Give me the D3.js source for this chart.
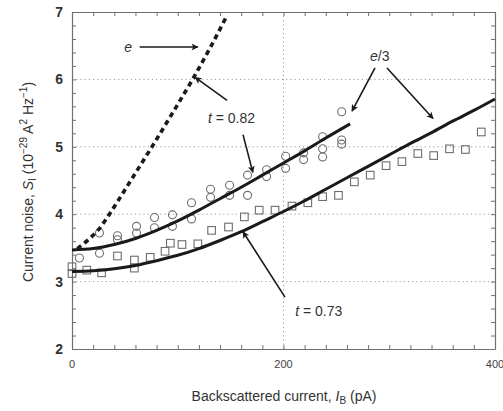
<!DOCTYPE html>
<html>
<head>
<meta charset="utf-8">
<script src="https://cdn.jsdelivr.net/npm/d3@7"></script>
<style>
  html, body { margin: 0; padding: 0; background: #fff; }
  svg { display: block; font-family: "Liberation Sans", Arial, sans-serif; }
</style>
</head>
<body>
<svg id="chart" width="503" height="411"></svg>
<script>
// Backscattered current I_B (pA) vs current noise S_I (1e-29 A^2/Hz)

// Measured noise, t = 0.82 (circles)
const circleX = [7, 26, 26, 43, 43, 61, 61, 78, 78, 95, 95, 113, 113, 131, 131, 149, 149, 166, 166, 184, 184, 202, 202, 219, 219, 237, 237, 237, 255, 255, 255];
const circleY = [3.35, 3.72, 3.42, 3.68, 3.62, 3.82, 3.72, 3.95, 3.80, 3.99, 3.82, 4.17, 3.93, 4.37, 4.25, 4.43, 4.28, 4.58, 4.28, 4.66, 4.56, 4.86, 4.68, 4.91, 4.81, 5.15, 4.97, 4.85, 5.52, 5.10, 5.04];

// Measured noise, t = 0.73 (squares)
const squareX = [0, 0, 14, 28, 43, 59, 59, 74, 88, 93, 104, 119, 132, 148, 163, 177, 192, 208, 223, 237, 252, 267, 282, 297, 312, 327, 342, 357, 372, 387];
const squareY = [3.22, 3.12, 3.17, 3.13, 3.38, 3.32, 3.20, 3.36, 3.45, 3.57, 3.55, 3.56, 3.76, 3.81, 3.96, 4.06, 4.06, 4.12, 4.17, 4.26, 4.28, 4.48, 4.58, 4.72, 4.78, 4.90, 4.87, 4.97, 4.96, 5.22];

// Expected noise for charge e* = e/3, t = 0.82
const fit082X = [0, 20, 40, 60, 80, 100, 120, 140, 160, 180, 200, 220, 240, 263];
const fit082Y = [3.47, 3.49, 3.55, 3.64, 3.76, 3.90, 4.06, 4.23, 4.40, 4.58, 4.76, 4.94, 5.13, 5.34];

// Expected noise for charge e* = e/3, t = 0.73
const fit073X = [0, 20, 40, 60, 80, 100, 120, 140, 160, 180, 200, 220, 240, 260, 280, 300, 320, 340, 360, 380, 400];
const fit073Y = [3.15, 3.16, 3.19, 3.24, 3.31, 3.39, 3.49, 3.61, 3.74, 3.89, 4.04, 4.20, 4.37, 4.54, 4.71, 4.88, 5.05, 5.21, 5.38, 5.54, 5.71];

// Expected noise for charge e* = e
const fitEX = [5, 16, 25, 35, 44, 60, 76, 95, 114, 130, 146];
const fitEY = [3.49, 3.63, 3.77, 3.99, 4.21, 4.61, 5.01, 5.50, 6.00, 6.45, 6.93];

// Axis ticks
const xMajor = [0, 200, 400];
const yMajor = [2, 3, 4, 5, 6, 7];
const xGrid = [200];
const yGrid = [3, 4, 5, 6];

const svg = d3.select("#chart");
const x = d3.scaleLinear().domain([0, 400]).range([72, 495]);
const y = d3.scaleLinear().domain([2, 7]).range([349, 12]);

const frame = "#6f6f6f";
const ink = "#1a1a1a";
const markC = "#6e6e6e";

// dotted grid
const grid = svg.append("g");
grid.selectAll("line.gy").data(yGrid).join("line")
  .attr("x1", x(0)).attr("x2", x(400))
  .attr("y1", d => y(d)).attr("y2", d => y(d))
  .attr("stroke", "#9a9a9a").attr("stroke-width", 1).attr("stroke-dasharray", "1.2,3");
grid.selectAll("line.gx").data(xGrid).join("line")
  .attr("y1", y(2)).attr("y2", y(7))
  .attr("x1", d => x(d)).attr("x2", d => x(d))
  .attr("stroke", "#9a9a9a").attr("stroke-width", 1).attr("stroke-dasharray", "1.2,3");

// frame with inward ticks on all four sides
const minorX = d3.range(0, 401, 20);
const minorY = d3.range(2, 7.001, 0.2);
const axB = d3.axisBottom(x).tickValues(minorX).tickSizeInner(-4).tickSizeOuter(0).tickFormat("");
const axT = d3.axisTop(x).tickValues(minorX).tickSizeInner(-4).tickSizeOuter(0).tickFormat("");
const axL = d3.axisLeft(y).tickValues(minorY).tickSizeInner(-4).tickSizeOuter(0).tickFormat("");
const axR = d3.axisRight(y).tickValues(minorY).tickSizeInner(-4).tickSizeOuter(0).tickFormat("");
function styleAxis(g) {
  g.selectAll("path").attr("stroke", frame).attr("stroke-width", 1.2);
  g.selectAll("line").attr("stroke", frame).attr("stroke-width", 1);
}
svg.append("g").attr("transform", `translate(0,${y(2)})`).call(axB).call(styleAxis);
svg.append("g").attr("transform", `translate(0,${y(7)})`).call(axT).call(styleAxis);
svg.append("g").attr("transform", `translate(${x(0)},0)`).call(axL).call(styleAxis);
svg.append("g").attr("transform", `translate(${x(400)},0)`).call(axR).call(styleAxis);

// tick labels
svg.append("g").selectAll("text").data(yMajor).join("text")
  .attr("x", 63).attr("y", d => y(d) + 5)
  .attr("text-anchor", "end").attr("font-size", 14).attr("font-weight", "bold")
  .attr("fill", "#333").text(d => d);
svg.append("g").selectAll("text").data(xMajor).join("text")
  .attr("x", d => x(d)).attr("y", 368)
  .attr("text-anchor", "middle").attr("font-size", 11)
  .attr("fill", "#444").text(d => d);

// data markers
svg.append("g").selectAll("circle").data(circleX.map((d, i) => [d, circleY[i]])).join("circle")
  .attr("cx", d => x(d[0])).attr("cy", d => y(d[1])).attr("r", 4)
  .attr("fill", "none").attr("stroke", markC).attr("stroke-width", 1.1);
svg.append("g").selectAll("rect").data(squareX.map((d, i) => [d, squareY[i]])).join("rect")
  .attr("x", d => x(d[0]) - 3.8).attr("y", d => y(d[1]) - 3.8)
  .attr("width", 7.6).attr("height", 7.6)
  .attr("fill", "none").attr("stroke", markC).attr("stroke-width", 1.1);

// theory curves
const line = d3.line().x(d => x(d[0])).y(d => y(d[1])).curve(d3.curveMonotoneX);
svg.append("path").datum(fit082X.map((d, i) => [d, fit082Y[i]]))
  .attr("d", line).attr("fill", "none").attr("stroke", ink).attr("stroke-width", 3);
svg.append("path").datum(fit073X.map((d, i) => [d, fit073Y[i]]))
  .attr("d", line).attr("fill", "none").attr("stroke", ink).attr("stroke-width", 3);
svg.append("path").datum(fitEX.map((d, i) => [d, fitEY[i]]))
  .attr("d", line).attr("fill", "none").attr("stroke", ink).attr("stroke-width", 3.6)
  .attr("stroke-dasharray", "5,4");

// annotation arrows
const defs = svg.append("defs");
defs.append("marker").attr("id", "head").attr("viewBox", "0 0 10 10")
  .attr("refX", 9).attr("refY", 5).attr("markerWidth", 10).attr("markerHeight", 7)
  .attr("markerUnits", "userSpaceOnUse").attr("orient", "auto")
  .append("path").attr("d", "M0,0 L10,5 L0,10 L2.5,5 Z").attr("fill", ink);

const arrows = [
  [[64, 6.48], [119, 6.48]],
  [[146.6, 5.69], [116.5, 6.03]],
  [[161.7, 5.18], [171, 4.62]],
  [[286.5, 6.17], [264.8, 5.53]],
  [[297.9, 6.17], [341.4, 5.42]],
  [[201.4, 2.77], [161.7, 3.74]]
];
svg.append("g").selectAll("line").data(arrows).join("line")
  .attr("x1", d => x(d[0][0])).attr("y1", d => y(d[0][1]))
  .attr("x2", d => x(d[1][0])).attr("y2", d => y(d[1][1]))
  .attr("stroke", ink).attr("stroke-width", 1.6).attr("marker-end", "url(#head)");

// annotation labels
const ann = svg.append("g").attr("font-size", 14).attr("fill", "#333");
ann.append("text").attr("x", x(53)).attr("y", y(6.48) + 5)
  .attr("text-anchor", "middle").attr("font-style", "italic").text("e");
const t82 = ann.append("text").attr("x", x(128.5)).attr("y", y(5.36));
t82.append("tspan").attr("font-style", "italic").text("t");
t82.append("tspan").text(" = 0.82");
const e3 = ann.append("text").attr("x", x(291)).attr("y", y(6.28)).attr("text-anchor", "middle");
e3.append("tspan").attr("font-style", "italic").text("e");
e3.append("tspan").text("/3");
const t73 = ann.append("text").attr("x", x(211)).attr("y", y(2.49));
t73.append("tspan").attr("font-style", "italic").text("t");
t73.append("tspan").text(" = 0.73");

// axis titles
const xt = svg.append("text").attr("x", 284).attr("y", 401)
  .attr("text-anchor", "middle").attr("font-size", 14).attr("fill", "#333");
xt.append("tspan").text("Backscattered current, ");
xt.append("tspan").attr("font-style", "italic").text("I");
xt.append("tspan").attr("font-size", 10).attr("dy", 3).text("B");
xt.append("tspan").attr("dy", -3).text(" (pA)");

const yt = svg.append("text").attr("transform", "translate(33,182) rotate(-90)")
  .attr("text-anchor", "middle").attr("font-size", 14).attr("fill", "#333");
yt.append("tspan").text("Current noise, ");
yt.append("tspan").attr("font-style", "italic").text("S");
yt.append("tspan").attr("font-size", 10).attr("dy", 3).text("I");
yt.append("tspan").attr("dy", -3).text(" (10");
yt.append("tspan").attr("font-size", 10).attr("dy", -6).text("−29");
yt.append("tspan").attr("dy", 6).text(" A");
yt.append("tspan").attr("font-size", 10).attr("dy", -6).text("2");
yt.append("tspan").attr("dy", 6).text(" Hz");
yt.append("tspan").attr("font-size", 10).attr("dy", -6).text("−1");
yt.append("tspan").attr("dy", 6).text(")");
</script>
</body>
</html>
